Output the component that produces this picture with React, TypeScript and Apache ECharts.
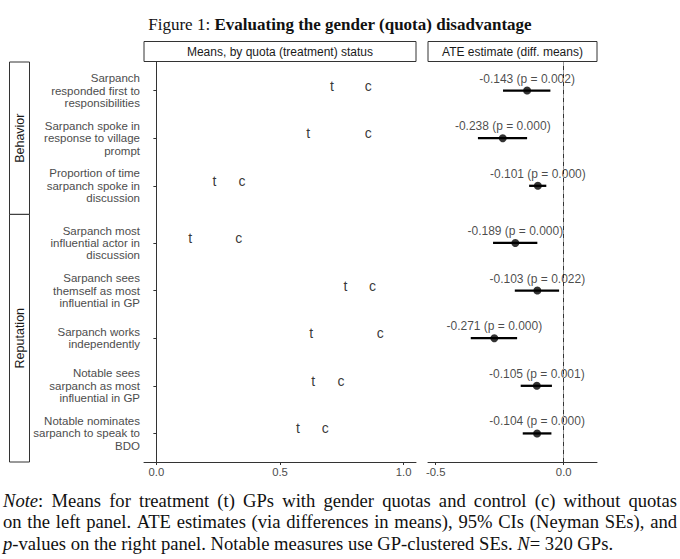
import { useEffect, useRef } from "react";
import * as echarts from "echarts";

// ---------- data ----------
const facetNames = ["Behavior", "Reputation"];
const rowFacet = [0, 0, 0, 1, 1, 1, 1, 1];
const categories = [
  "Sarpanch\nresponded first to\nresponsibilities",
  "Sarpanch spoke in\nresponse to village\nprompt",
  "Proportion of time\nsarpanch spoke in\ndiscussion",
  "Sarpanch most\ninfluential actor in\ndiscussion",
  "Sarpanch sees\nthemself as most\ninfluential in GP",
  "Sarpanch works\nindependently",
  "Notable sees\nsarpanch as most\ninfluential in GP",
  "Notable nominates\nsarpanch to speak to\nBDO",
];
const treatmentMeans = [0.71, 0.614, 0.235, 0.137, 0.765, 0.626, 0.634, 0.573];
const controlMeans = [0.857, 0.857, 0.346, 0.333, 0.874, 0.905, 0.747, 0.683];
const ateEstimates = [-0.143, -0.238, -0.101, -0.189, -0.103, -0.271, -0.105, -0.104];
const ciLower = [-0.237, -0.335, -0.135, -0.276, -0.191, -0.363, -0.168, -0.16];
const ciUpper = [-0.052, -0.143, -0.068, -0.103, -0.018, -0.182, -0.046, -0.048];
const pValues = ["0.002", "0.000", "0.000", "0.000", "0.022", "0.000", "0.001", "0.000"];
const leftTicks = [0, 0.5, 1.0];
const rightTicks = [-0.5, 0.0];
const leftTitle = "Means, by quota (treatment) status";
const rightTitle = "ATE estimate (diff. means)";
const noteLines = [
  "{i|Note}: Means for treatment (t) GPs with gender quotas and control (c) without quotas",
  "on the left panel. ATE estimates (via differences in means), 95% CIs (Neyman SEs), and",
  "{i|p}-values on the right panel. Notable measures use GP-clustered SEs. {i|N}= 320 GPs.",
];
const noteJustified = [true, true, false];

// ---------- layout ----------
const FONT = "'Liberation Sans', Arial, Helvetica, sans-serif";
const SERIF = "'Liberation Serif', 'Times New Roman', serif";
const NOTE_SIZE = 18.6;
const NOTE_LEFT = 3;
const NOTE_RIGHT = 677;
const PAD = 0.6;
const GRID_TOP = 62;
const GRID_H = 400;
const LEFT_X = 144;
const LEFT_W = 272;
const RIGHT_X = 428;
const RIGHT_W = 169;

// facet extents in row units
const facetSizes = facetNames.map((_, f) => rowFacet.filter((r) => r === f).length);
const facetStarts: number[] = [];
{
  let acc = 0;
  facetSizes.forEach((n) => {
    facetStarts.push(acc);
    acc += n - 1 + 2 * PAD;
  });
}
const totalUnits = facetStarts[facetStarts.length - 1] + facetSizes[facetSizes.length - 1] - 1 + 2 * PAD;
const rowPos = rowFacet.map((f, i) => {
  const firstIdx = rowFacet.indexOf(f);
  return facetStarts[f] + PAD + (i - firstIdx);
});
const unitPx = GRID_H / totalUnits;

function catFor(v: number) {
  let best = 0;
  let d = Infinity;
  rowPos.forEach((p, i) => {
    if (Math.abs(p - v) < d) {
      d = Math.abs(p - v);
      best = i;
    }
  });
  return categories[best];
}

let measureCtx: CanvasRenderingContext2D | null = null;
function measureRich(word: string) {
  if (!measureCtx) measureCtx = document.createElement("canvas").getContext("2d");
  const ctx = measureCtx!;
  let w = 0;
  const re = /\{i\|([^}]*)\}|([^{]+)/g;
  let m: RegExpExecArray | null;
  while ((m = re.exec(word))) {
    const italic = m[1] !== undefined;
    const txt = italic ? m[1] : m[2];
    ctx.font = `${italic ? "italic " : ""}${NOTE_SIZE}px ${SERIF}`;
    w += ctx.measureText(txt).width;
  }
  return w;
}

export default function App() {
  const ref = useRef<HTMLDivElement>(null);
  useEffect(() => {
    document.body.style.margin = "0";
    const chart = echarts.init(ref.current!, null, { renderer: "svg" });

    const yAxisBase = {
      type: "value" as const,
      min: 0,
      max: totalUnits,
      inverse: true,
      splitLine: { show: false },
      axisLine: { show: true, lineStyle: { color: "#333", width: 1 } },
    };

    const graphics: any[] = [
      {
        type: "text",
        x: 340,
        y: 24,
        style: {
          text: "{n|Figure 1: }{b|Evaluating the gender (quota) disadvantage}",
          align: "center",
          verticalAlign: "middle",
          rich: {
            n: { fontFamily: SERIF, fontSize: 17, fill: "#111" },
            b: { fontFamily: SERIF, fontSize: 17, fontWeight: "bold", fill: "#111" },
          },
        },
      },
      // top strips
      {
        type: "rect",
        shape: { x: LEFT_X, y: 41.5, width: LEFT_W, height: 20 },
        style: { fill: "#fff", stroke: "#333", lineWidth: 1 },
      },
      {
        type: "text",
        x: LEFT_X + LEFT_W / 2,
        y: 51.5,
        style: { text: leftTitle, align: "center", verticalAlign: "middle", fontFamily: FONT, fontSize: 12, fill: "#1a1a1a" },
      },
      {
        type: "rect",
        shape: { x: RIGHT_X, y: 41.5, width: RIGHT_W, height: 20 },
        style: { fill: "#fff", stroke: "#333", lineWidth: 1 },
      },
      {
        type: "text",
        x: RIGHT_X + RIGHT_W / 2,
        y: 51.5,
        style: { text: rightTitle, align: "center", verticalAlign: "middle", fontFamily: FONT, fontSize: 12, fill: "#1a1a1a" },
      },
    ];
    facetNames.forEach((name, f) => {
      const y0 = GRID_TOP + facetStarts[f] * unitPx;
      const h = (facetSizes[f] - 1 + 2 * PAD) * unitPx;
      graphics.push({
        type: "rect",
        shape: { x: 9.5, y: y0, width: 20, height: h },
        style: { fill: "#fff", stroke: "#333", lineWidth: 1 },
      });
      graphics.push({
        type: "text",
        x: 19.5,
        y: y0 + h / 2,
        rotation: Math.PI / 2,
        style: { text: name, align: "center", verticalAlign: "middle", fontFamily: FONT, fontSize: 12.5, fill: "#1a1a1a" },
      });
    });

    // note (justified like the typeset original)
    const noteStyle = { fontFamily: SERIF, fontSize: NOTE_SIZE, fill: "#111" };
    const spaceW = measureRich(" ");
    noteLines.forEach((line, k) => {
      const words = line.split(" ");
      const widths = words.map(measureRich);
      const total = widths.reduce((a, b) => a + b, 0);
      const gap = noteJustified[k]
        ? (NOTE_RIGHT - NOTE_LEFT - total) / (words.length - 1)
        : spaceW;
      let x = NOTE_LEFT;
      words.forEach((w, j) => {
        graphics.push({
          type: "text",
          x,
          y: 500 + k * 21.5,
          style: {
            text: w,
            verticalAlign: "middle",
            ...noteStyle,
            rich: { i: { ...noteStyle, fontStyle: "italic" } },
          },
        });
        x += widths[j] + gap;
      });
    });

    const option: any = {
      animation: false,
      backgroundColor: "#fff",
      textStyle: { fontFamily: FONT },
      grid: [
        { left: LEFT_X, top: GRID_TOP, width: LEFT_W, height: GRID_H, containLabel: false },
        { left: RIGHT_X, top: GRID_TOP, width: RIGHT_W, height: GRID_H, containLabel: false },
      ],
      xAxis: [
        {
          type: "value",
          gridIndex: 0,
          min: -0.05,
          max: 1.05,
          splitLine: { show: false },
          axisLine: { show: true, onZero: false, lineStyle: { color: "#333", width: 1 } },
          axisTick: { show: true, length: 3, customValues: leftTicks, lineStyle: { color: "#333" } },
          axisLabel: {
            customValues: leftTicks,
            formatter: (v: number) => v.toFixed(1),
            fontSize: 11.3,
            color: "#4d4d4d",
            margin: 4,
            fontFamily: FONT,
          },
        },
        {
          type: "value",
          gridIndex: 1,
          min: -0.53,
          max: 0.13,
          splitLine: { show: false },
          axisLine: { show: true, onZero: false, lineStyle: { color: "#333", width: 1 } },
          axisTick: { show: true, length: 3, customValues: rightTicks, lineStyle: { color: "#333" } },
          axisLabel: {
            customValues: rightTicks,
            formatter: (v: number) => v.toFixed(1),
            fontSize: 11.3,
            color: "#4d4d4d",
            margin: 4,
            fontFamily: FONT,
          },
        },
      ],
      yAxis: [
        {
          ...yAxisBase,
          gridIndex: 0,
          axisTick: { show: true, length: 3, customValues: rowPos, lineStyle: { color: "#333" } },
          axisLabel: {
            customValues: rowPos,
            formatter: (v: number) => catFor(v),
            fontSize: 11.5,
            lineHeight: 12.4,
            color: "#4d4d4d",
            align: "right",
            margin: 4,
            fontFamily: FONT,
          },
        },
        {
          ...yAxisBase,
          gridIndex: 1,
          axisTick: { show: false },
          axisLabel: { show: false },
        },
      ],
      series: [
        {
          name: "t",
          type: "scatter",
          xAxisIndex: 0,
          yAxisIndex: 0,
          symbolSize: 1,
          itemStyle: { color: "rgba(0,0,0,0)" },
          data: treatmentMeans.map((v, i) => [v, rowPos[i]]),
          label: { show: true, position: "inside", formatter: "t", fontSize: 14, color: "#000", offset: [0, -5], fontFamily: FONT },
        },
        {
          name: "c",
          type: "scatter",
          xAxisIndex: 0,
          yAxisIndex: 0,
          symbolSize: 1,
          itemStyle: { color: "rgba(0,0,0,0)" },
          data: controlMeans.map((v, i) => [v, rowPos[i]]),
          label: { show: true, position: "inside", formatter: "c", fontSize: 14, color: "#000", offset: [0, -5], fontFamily: FONT },
        },
        {
          name: "CI",
          type: "custom",
          xAxisIndex: 1,
          yAxisIndex: 1,
          data: ciLower.map((lo, i) => [lo, ciUpper[i], rowPos[i]]),
          renderItem: (_params: any, api: any) => {
            const a = api.coord([api.value(0), api.value(2)]);
            const b = api.coord([api.value(1), api.value(2)]);
            return {
              type: "line",
              shape: { x1: a[0], y1: a[1], x2: b[0], y2: b[1] },
              style: { stroke: "#000", lineWidth: 2.3 },
            };
          },
          markLine: {
            silent: true,
            symbol: "none",
            label: { show: false },
            lineStyle: { type: [4, 4], color: "#9a9a9a", width: 1 },
            data: [{ xAxis: 0 }],
          },
          z: 2,
        },
        {
          name: "ATE",
          type: "scatter",
          xAxisIndex: 1,
          yAxisIndex: 1,
          symbolSize: 8,
          itemStyle: { color: "#000" },
          data: ateEstimates.map((v, i) => [v, rowPos[i], pValues[i]]),
          label: {
            show: true,
            position: "top",
            distance: 2,
            formatter: (p: any) => `${p.value[0].toFixed(3)} (p = ${p.value[2]})`,
            fontSize: 12,
            color: "#1a1a1a",
            fontFamily: FONT,
          },
          z: 3,
        },
      ],
      graphic: graphics,
    };
    chart.setOption(option);
    return () => chart.dispose();
  }, []);
  return <div ref={ref} style={{ width: 680, height: 559 }} />;
}
